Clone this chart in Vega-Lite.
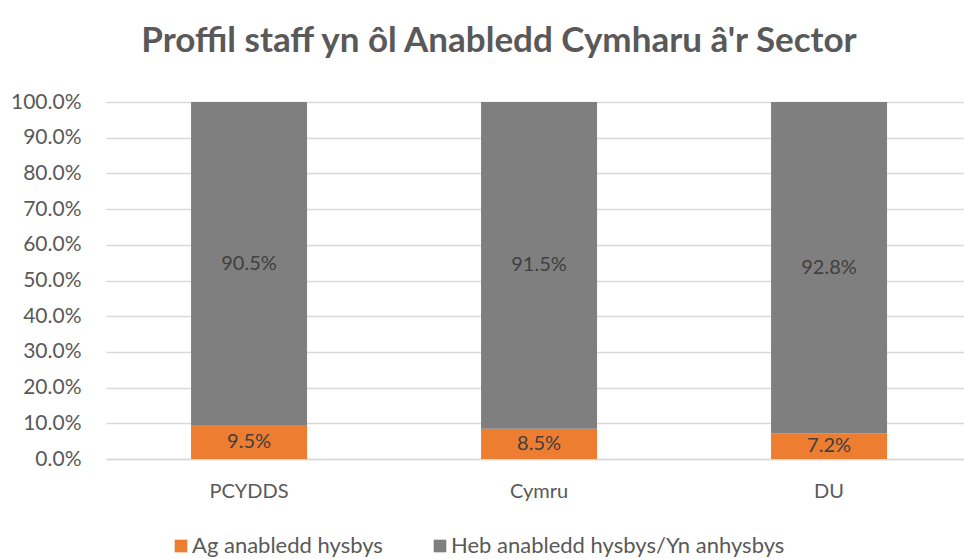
{
  "$schema": "https://vega.github.io/schema/vega-lite/v6.json",
  "width": 858,
  "height": 357,
  "autosize": "none",
  "padding": {"left": 106, "top": 102, "right": 0, "bottom": 100},
  "background": "white",
  "config": {
    "font": "Lato",
    "view": {"stroke": null},
    "axisY": {
      "format": ".1%",
      "labelFontSize": 21,
      "labelColor": "#595959",
      "labelPadding": 25,
      "ticks": false,
      "domain": false,
      "gridColor": "#d9d9d9",
      "gridWidth": 1.5,
      "labelOverlap": false
    }
  },
  "title": {
    "text": "Proffil staff yn ôl Anabledd Cymharu â'r Sector",
    "fontSize": 35,
    "fontWeight": "bold",
    "color": "#595959",
    "font": "Lato",
    "anchor": "middle",
    "dx": -36,
    "offset": 32
  },
  "data": {
    "values": [
      {"sector": "PCYDDS", "group": "Ag anabledd hysbys", "rank": 1, "value": 0.095},
      {"sector": "PCYDDS", "group": "Heb anabledd hysbys/Yn anhysbys", "rank": 2, "value": 0.905},
      {"sector": "Cymru", "group": "Ag anabledd hysbys", "rank": 1, "value": 0.085},
      {"sector": "Cymru", "group": "Heb anabledd hysbys/Yn anhysbys", "rank": 2, "value": 0.915},
      {"sector": "DU", "group": "Ag anabledd hysbys", "rank": 1, "value": 0.072},
      {"sector": "DU", "group": "Heb anabledd hysbys/Yn anhysbys", "rank": 2, "value": 0.928}
    ]
  },
  "encoding": {
    "x": {
      "field": "sector",
      "type": "nominal",
      "sort": ["PCYDDS", "Cymru", "DU"],
      "scale": {"paddingInner": 0.6, "paddingOuter": 0.2793, "align": 0.525},
      "axis": {
        "title": null,
        "labelAngle": 0,
        "labelFontSize": 20,
        "labelColor": "#595959",
        "labelPadding": 22,
        "ticks": false,
        "domainColor": "#d9d9d9",
        "domainWidth": 1.5
      }
    },
    "order": {"field": "rank", "type": "quantitative", "sort": "ascending"}
  },
  "layer": [
    {
      "mark": {"type": "bar"},
      "encoding": {
        "y": {
          "field": "value",
          "type": "quantitative",
          "stack": "zero",
          "scale": {"domain": [0, 1]},
          "axis": {"title": null, "values": [0, 0.1, 0.2, 0.3, 0.4, 0.5, 0.6, 0.7, 0.8, 0.9, 1.0]}
        },
        "color": {
          "field": "group",
          "type": "nominal",
          "scale": {
            "domain": ["Ag anabledd hysbys", "Heb anabledd hysbys/Yn anhysbys"],
            "range": ["#ED7D31", "#7F7F7F"]
          },
          "legend": {
            "title": null,
            "orient": "none",
            "direction": "horizontal",
            "legendX": 64,
            "legendY": 433,
            "symbolType": "square",
            "symbolSize": 160,
            "symbolStrokeWidth": 0,
            "labelFontSize": 22,
            "labelColor": "#595959",
            "columnPadding": 46,
            "labelOffset": 0,
            "labelLimit": 500
          }
        }
      }
    },
    {
      "mark": {"type": "text", "fontSize": 20, "color": "#404040", "baseline": "middle"},
      "encoding": {
        "y": {
          "field": "value",
          "type": "quantitative",
          "stack": "zero",
          "bandPosition": 0.5,
          "axis": {"title": null, "values": [0, 0.1, 0.2, 0.3, 0.4, 0.5, 0.6, 0.7, 0.8, 0.9, 1.0]}
        },
        "text": {"field": "value", "type": "quantitative", "format": ".1%"}
      }
    }
  ]
}
